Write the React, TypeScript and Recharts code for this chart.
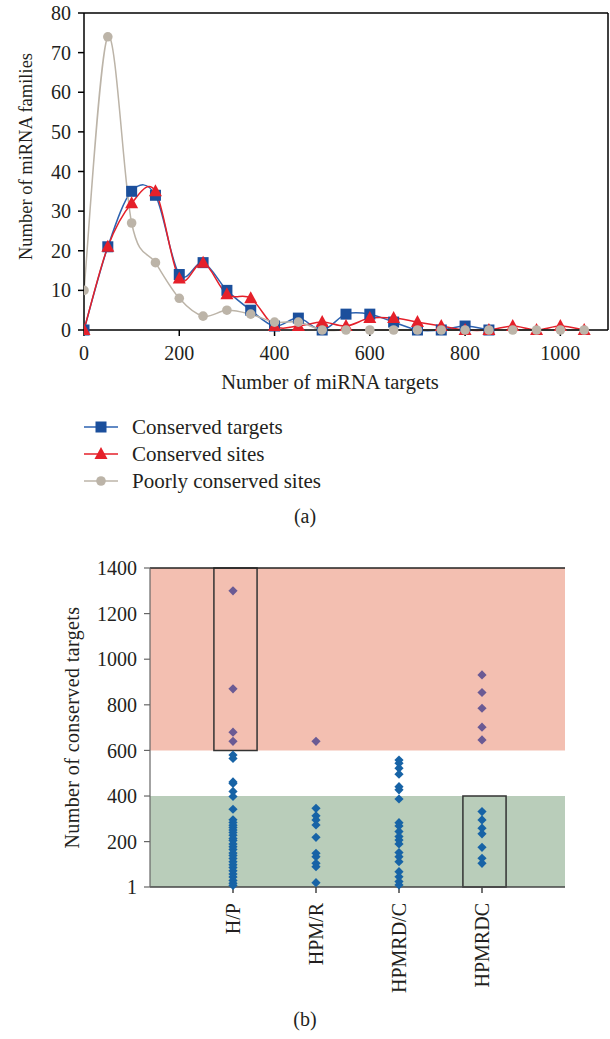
import React from 'react';
import {
  LineChart, Line, XAxis, YAxis, ReferenceLine, Legend,
  ScatterChart, Scatter, ReferenceArea,
} from 'recharts';

// ---------- Data: panel (a) ----------
const targetBins = [0, 50, 100, 150, 200, 250, 300, 350, 400, 450, 500, 550, 600, 650, 700, 750, 800, 850, 900, 950, 1000, 1050];
const conservedTargets = [0, 21, 35, 34, 14, 17, 10, 5, 1, 3, 0, 4, 4, 2, 0, 0, 1, 0, null, null, null, null];
const conservedSites = [0, 21, 32, 35, 13, 17, 9, 8, 1, 1, 2, 1, 3, 3, 2, 1, 0, 0, 1, 0, 1, 0];
const poorlyConservedSites = [10, 74, 27, 17, 8, 3.5, 5, 4, 2, 2, 0, 0, 0, 0, 0, 0, 0, 0, 0, 0, 0, 0];
const xTicksA = [0, 200, 400, 600, 800, 1000];
const yTicksA = [0, 10, 20, 30, 40, 50, 60, 70, 80];

// ---------- Data: panel (b) ----------
const categoriesB = ['H/P', 'HPM/R', 'HPMRD/C', 'HPMRDC'];
const hpHigh = [1300, 870, 680, 640];
const hpLow = [580, 565, 462, 455, 420, 398, 342, 296, 284, 272, 262, 251, 240, 228, 214, 205, 190, 178, 166, 150, 139, 126, 112, 99, 86, 72, 58, 45, 30, 17, 8];
const hpmrHigh = [640];
const hpmrLow = [346, 313, 295, 273, 219, 149, 134, 105, 90, 20];
const hpmrdcSlashLow = [558, 544, 522, 496, 441, 427, 387, 283, 269, 244, 222, 207, 190, 152, 134, 112, 68, 46, 25, 10];
const hpmrdcHigh = [931, 854, 785, 702, 646];
const hpmrdcLow = [332, 295, 259, 234, 175, 127, 105];
const yTicksB = [1, 200, 400, 600, 800, 1000, 1200, 1400];

const highByCat = [hpHigh, hpmrHigh, [], hpmrdcHigh];
const lowByCat = [hpLow, hpmrLow, hpmrdcSlashLow, hpmrdcLow];

const dataA = targetBins.map((x, i) => ({
  x,
  targets: conservedTargets[i],
  sites: conservedSites[i],
  poorly: poorlyConservedSites[i],
}));

const toPoints = (groups: number[][]) =>
  groups.flatMap((vals, ci) => vals.map((y) => ({ x: ci + 1, y })));
const highPoints = toPoints(highByCat);
const lowPoints = toPoints(lowByCat);

const FONT = "'Liberation Serif', 'Times New Roman', serif";
const TXT = '#231f20';

const BLUE = '#1b4f9c';
const BLUE_LINE = '#2d62b0';
const RED = '#e5202a';
const GREY = '#bcb4a8';

// Catmull-Rom style smoothing similar to spreadsheet "smoothed line"
const smoothCurve: any = (context: any) => {
  let pts: number[][] = [];
  return {
    areaStart() {},
    areaEnd() {},
    lineStart() { pts = []; },
    point(x: number, y: number) { pts.push([+x, +y]); },
    lineEnd() {
      if (!pts.length) return;
      context.moveTo(pts[0][0], pts[0][1]);
      for (let i = 0; i < pts.length - 1; i++) {
        const p0 = pts[i - 1] || pts[i];
        const p1 = pts[i];
        const p2 = pts[i + 1];
        const p3 = pts[i + 2] || p2;
        context.bezierCurveTo(
          p1[0] + (p2[0] - p0[0]) / 6, p1[1] + (p2[1] - p0[1]) / 6,
          p2[0] - (p3[0] - p1[0]) / 6, p2[1] - (p3[1] - p1[1]) / 6,
          p2[0], p2[1],
        );
      }
    },
  };
};

const SquareDot = (p: any) => {
  if (p.cx == null || p.cy == null || p.value == null) return <g key={p.key} />;
  return <rect key={p.key} x={p.cx - 5.5} y={p.cy - 5.5} width={11} height={11} fill={BLUE} />;
};
const TriDot = (p: any) => {
  if (p.cx == null || p.cy == null || p.value == null) return <g key={p.key} />;
  return (
    <polygon key={p.key}
      points={`${p.cx},${p.cy - 7} ${p.cx + 6.5},${p.cy + 5} ${p.cx - 6.5},${p.cy + 5}`}
      fill={RED} />
  );
};
const CircleDot = (p: any) => {
  if (p.cx == null || p.cy == null || p.value == null) return <g key={p.key} />;
  return <circle key={p.key} cx={p.cx} cy={p.cy} r={4.8} fill={GREY} />;
};

const seriesA = [
  { key: 'targets', name: 'Conserved targets', line: BLUE_LINE, marker: 'square' },
  { key: 'sites', name: 'Conserved sites', line: RED, marker: 'tri' },
  { key: 'poorly', name: 'Poorly conserved sites', line: GREY, marker: 'circle' },
];

const LegendMarker = ({ kind, cx, cy }: any) => {
  if (kind === 'square') return <rect x={cx - 5.5} y={cy - 5.5} width={11} height={11} fill={BLUE} />;
  if (kind === 'tri') return <polygon points={`${cx},${cy - 7} ${cx + 6.5},${cy + 5} ${cx - 6.5},${cy + 5}`} fill={RED} />;
  return <circle cx={cx} cy={cy} r={4.8} fill={GREY} />;
};

const LegendA = () => (
  <svg width={610} height={100} style={{ display: 'block' }}>
    {seriesA.map((s, i) => {
      const cy = 27 + i * 27;
      return (
        <g key={s.key}>
          <line x1={84} x2={118} y1={cy} y2={cy} stroke={s.line} strokeWidth={1.5} />
          <LegendMarker kind={s.marker} cx={101} cy={cy} />
          <text x={132} y={cy} dominantBaseline="central" fontFamily={FONT} fontSize={21} fill={TXT}>{s.name}</text>
        </g>
      );
    })}
  </svg>
);

const CatTick = (p: any) => {
  const { x, y, payload } = p;
  const ty = y + 2;
  return (
    <text x={x} y={ty} transform={`rotate(-90 ${x} ${ty})`} textAnchor="end" dominantBaseline="central"
      fontFamily={FONT} fontSize={20} fill={TXT}>
      {categoriesB[payload.value - 1]}
    </text>
  );
};

const DiamondHigh = (p: any) => (
  <polygon points={`${p.cx},${p.cy - 4.6} ${p.cx + 4.6},${p.cy} ${p.cx},${p.cy + 4.6} ${p.cx - 4.6},${p.cy}`} fill="#6a5a94" />
);
const DiamondLow = (p: any) => (
  <polygon points={`${p.cx},${p.cy - 4.6} ${p.cx + 4.6},${p.cy} ${p.cx},${p.cy + 4.6} ${p.cx - 4.6},${p.cy}`} fill="#1763a6" />
);

const tickStyle = { fontFamily: FONT, fontSize: 20, fill: TXT };

export default function App() {
  return (
    <div style={{ position: 'absolute', left: 0, top: 0, width: 610, height: 1039, background: '#fff', fontFamily: FONT }}>
      <LineChart width={610} height={500} data={dataA} margin={{ top: 13, right: 2, bottom: 0, left: 0 }}>
        <XAxis dataKey="x" type="number" domain={[0, 1100]} ticks={xTicksA} height={70}
          tick={tickStyle} tickSize={6} tickMargin={10} stroke="#000" strokeWidth={1.5}
          allowDataOverflow
          label={{ value: 'Number of miRNA targets', position: 'center', dy: 17, dx: -16, style: { fontFamily: FONT, fontSize: 20.5, fill: TXT } }} />
        <YAxis type="number" domain={[0, 80]} ticks={yTicksA} width={84}
          tick={tickStyle} tickSize={6} tickMargin={7} stroke="#000" strokeWidth={1.5}
          label={{ value: 'Number of miRNA families', angle: -90, position: 'center', dx: -17, dy: -15, style: { fontFamily: FONT, fontSize: 18.5, fill: TXT } }} />
        <ReferenceLine y={80} stroke="#000" strokeWidth={1.5} />
        <ReferenceLine x={1100} stroke="#000" strokeWidth={1.5} />
        <Legend verticalAlign="bottom" align="left" content={() => <LegendA />} />
        <Line dataKey="targets" name="Conserved targets" type={smoothCurve} stroke={BLUE_LINE} strokeWidth={1.5}
          dot={SquareDot} activeDot={false} isAnimationActive={false} />
        <Line dataKey="sites" name="Conserved sites" type={smoothCurve} stroke={RED} strokeWidth={1.5}
          dot={TriDot} activeDot={false} isAnimationActive={false} />
        <Line dataKey="poorly" name="Poorly conserved sites" type={smoothCurve} stroke={GREY} strokeWidth={1.5}
          dot={CircleDot} activeDot={false} isAnimationActive={false} />
      </LineChart>

      <div style={{ position: 'absolute', left: 0, top: 505, width: 610, textAlign: 'center', fontSize: 20, color: TXT }}>(a)</div>

      <div style={{ position: 'absolute', left: 0, top: 550 }}>
        <ScatterChart width={610} height={460} margin={{ top: 18, right: 45, bottom: 0, left: 0 }}>
          <ReferenceArea y1={600} y2={1400} fill="#f3bfb1" fillOpacity={1} stroke="none" ifOverflow="visible" />
          <ReferenceArea y1={1} y2={400} fill="#b9cdba" fillOpacity={1} stroke="none" ifOverflow="visible" />
          <XAxis dataKey="x" type="number" domain={[0, 5]} ticks={[1, 2, 3, 4]} height={123}
            tick={<CatTick />} tickSize={6} tickMargin={8} stroke="#444" strokeWidth={1.5} interval={0} />
          <YAxis dataKey="y" type="number" domain={[1, 1400]} ticks={yTicksB} width={150}
            tick={tickStyle} tickSize={6} tickMargin={7} stroke="#666" strokeWidth={1.2}
            label={{ value: 'Number of conserved targets', angle: -90, position: 'center', dx: -3, dy: 0, style: { fontFamily: FONT, fontSize: 20, fill: TXT, letterSpacing: 0.4 } }} />
          <ReferenceLine y={1400} stroke="#222" strokeWidth={1.5} />
          <ReferenceArea x1={1 - 0.23} x2={1 + 0.29} y1={600} y2={1400} fill="none" stroke="#333" strokeWidth={1.5} ifOverflow="visible" />
          <ReferenceArea x1={4 - 0.23} x2={4 + 0.29} y1={1} y2={400} fill="none" stroke="#333" strokeWidth={1.5} ifOverflow="visible" />
          <Scatter name="High" data={highPoints} shape={DiamondHigh} isAnimationActive={false} />
          <Scatter name="Low" data={lowPoints} shape={DiamondLow} isAnimationActive={false} />
        </ScatterChart>
      </div>

      <div style={{ position: 'absolute', left: 0, top: 1008, width: 610, textAlign: 'center', fontSize: 20, color: TXT }}>(b)</div>
    </div>
  );
}
